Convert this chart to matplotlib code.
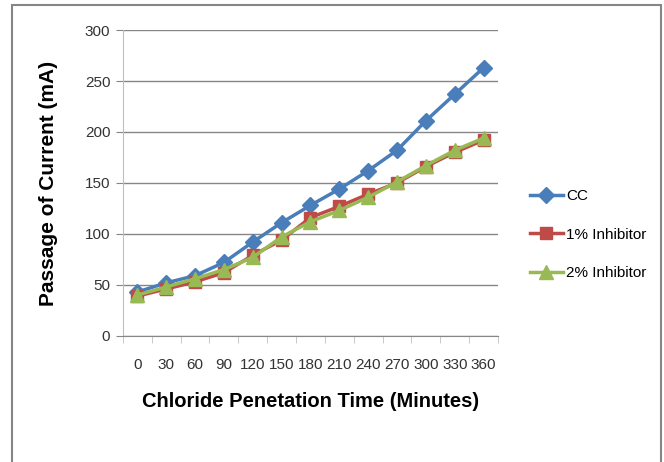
import matplotlib.pyplot as plt
from matplotlib.patches import Rectangle
import numpy as np

times = [0, 30, 60, 90, 120, 150, 180, 210, 240, 270, 300, 330, 360]
cc = [43, 52, 59, 72, 92, 111, 128, 144, 162, 182, 211, 237, 263]
inhib_1 = [39, 46, 53, 62, 79, 94, 116, 127, 139, 150, 166, 180, 192]
inhib_2 = [40, 48, 56, 65, 77, 97, 112, 123, 136, 151, 167, 182, 194]
y_ticks = [0, 50, 100, 150, 200, 250, 300]

TICK_FONT = ['Liberation Sans', 'DejaVu Sans']


def _main():
    fig = plt.figure(figsize=(6.64, 4.62), dpi=100)
    ax = fig.add_axes([0.185, 0.273, 0.565, 0.662])

    x = np.arange(len(times))
    ax.plot(x, cc, color='#4a7ebb', lw=2.5, marker='D', ms=8,
            mec='#4a7ebb', label='CC')
    ax.plot(x, inhib_1, color='#be4b48', lw=2.5, marker='s', ms=9,
            mec='#be4b48', label='1% Inhibitor')
    ax.plot(x, inhib_2, color='#98b954', lw=2.5, marker='^', ms=10,
            mec='#98b954', label='2% Inhibitor')

    ax.set_xlim(-0.5, len(times) - 0.5)
    ax.set_ylim(0, 300)
    ax.set_yticks(y_ticks)
    ax.set_yticklabels([str(v) for v in y_ticks], family=TICK_FONT, fontsize=11, color='#333333')
    ax.set_xticks(x)
    ax.set_xticklabels([str(t) for t in times], family=TICK_FONT, fontsize=11, color='#333333')
    ax.set_xticks(np.arange(len(times) + 1) - 0.5, minor=True)
    ax.tick_params(axis='x', which='major', length=0, pad=16)
    ax.tick_params(axis='x', which='minor', length=5, color='#bfbfbf', direction='out')
    ax.tick_params(axis='y', length=5, color='#868686', direction='out', pad=4)

    ax.grid(axis='y', color='#868686', lw=1)
    ax.set_axisbelow(True)
    for side in ['top', 'right']:
        ax.spines[side].set_visible(False)
    ax.spines['left'].set_color('#bfbfbf')
    ax.spines['bottom'].set_color('#868686')

    ax.set_ylabel('Passage of Current (mA)', family='Liberation Sans', fontsize=15,
                  fontweight='bold', labelpad=19)
    ax.set_xlabel('Chloride Penetation Time (Minutes)', family=TICK_FONT, fontsize=14.5,
                  fontweight='bold', labelpad=14)

    fig.legend(loc='upper left', bbox_to_anchor=(0.777, 0.62), frameon=False,
               prop={'family': TICK_FONT, 'size': 11}, labelspacing=1.6,
               handlelength=2.2, handletextpad=0.2)

    fig.patches.append(Rectangle((12 / 664, -0.1), 649 / 664, 1.1 - 5 / 462,
                                 transform=fig.transFigure, fill=False,
                                 edgecolor='#868686', lw=1.5))
    fig.savefig('out.png', dpi=100)


if __name__ == '__main__':
    _main()
